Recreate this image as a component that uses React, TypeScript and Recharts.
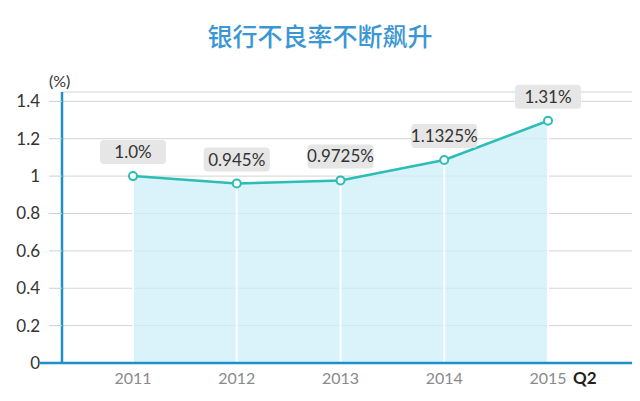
import React from "react";
import {
  Area,
  CartesianGrid,
  ComposedChart,
  LabelList,
  Line,
  ReferenceLine,
  XAxis,
  YAxis
} from "recharts";

const years = ["2011", "2012", "2013", "2014", "2015"];
const lastSuffix = "Q2";
// values read from the plotted points
const npl = [1.0, 0.96, 0.977, 1.086, 1.296];
// labels printed on the chart
const nplLabels = ["1.0%", "0.945%", "0.9725%", "1.1325%", "1.31%"];
const yTicks = [0, 0.2, 0.4, 0.6, 0.8, 1, 1.2, 1.4];

const data = years.map((year, i) => ({ year, npl: npl[i], label: nplLabels[i] }));

const AXIS_BLUE = "#1f8fca";
const TEAL = "#2bbdb6";
const FONT = "Lato, 'Open Sans', sans-serif";

function YTick(props: any) {
  const { x, y, payload } = props;
  const v = payload.value;
  return (
    <g>
      {v === 0 ? (
        <line x1={x - 22} x2={x} y1={y} y2={y} stroke={AXIS_BLUE} strokeWidth={2.5} />
      ) : (
        <line x1={x - 13} x2={x} y1={y} y2={y} stroke="#cfcfcf" strokeWidth={1} />
      )}
      <text x={x - 22} y={y} dy={6} textAnchor="end" fontSize={17} fill="#333" fontFamily={FONT}>
        {String(v)}
      </text>
    </g>
  );
}

function XTick(props: any) {
  const { x, y, payload, index } = props;
  const isLast = index === years.length - 1;
  return (
    <g>
      <text x={x} y={y + 21} textAnchor="middle" fontSize={16} fill="#8a8a8a" fontFamily={FONT}>
        {payload.value}
      </text>
      {isLast && (
        <text x={x + 25} y={y + 21} textAnchor="start" fontSize={17} fontWeight={700} fill="#222" fontFamily={FONT}>
          {lastSuffix}
        </text>
      )}
    </g>
  );
}

function PointLabel(props: any) {
  const { x, y, value } = props;
  const w = 66;
  const h = 24;
  const cy = y - 24;
  return (
    <g>
      <rect x={x - w / 2} y={cy - h / 2} width={w} height={h} rx={4} fill="#e6e6e6" />
      <text x={x} y={cy} dy={6} textAnchor="middle" fontSize={17} fill="#333" fontFamily={FONT}>
        {value}
      </text>
    </g>
  );
}

export default function App() {
  return (
    <div style={{ position: "absolute", left: 0, top: 0, width: 640, height: 401, background: "#fff" }}>
      <div
        style={{
          position: "absolute",
          left: 0,
          top: 17,
          width: 640,
          textAlign: "center",
          fontSize: 25,
          color: "#3b97d3",
          fontFamily: "'Noto Sans CJK SC', sans-serif",
          fontWeight: 500
        }}
      >
        银行不良率不断飙升
      </div>
      <div
        style={{
          position: "absolute",
          left: 49,
          top: 71,
          fontSize: 16,
          color: "#333",
          fontFamily: FONT
        }}
      >
        (%)
      </div>
      <div style={{ position: "absolute", left: 0, top: 0 }}>
        <ComposedChart width={640} height={401} data={data} margin={{ top: 92, right: 8, bottom: 0, left: 0 }}>
          <CartesianGrid vertical={false} stroke="#d4d4d4" />
          <XAxis
            dataKey="year"
            scale="point"
            padding={{ left: 71, right: 84 }}
            height={38}
            axisLine={{ stroke: AXIS_BLUE, strokeWidth: 2.5 }}
            tickLine={false}
            tickSize={0}
            tickMargin={0}
            tick={<XTick />}
            interval={0}
          />
          <YAxis
            width={62}
            domain={[0, 1.45]}
            ticks={yTicks}
            axisLine={{ stroke: AXIS_BLUE, strokeWidth: 2.5 }}
            tickLine={false}
            tickSize={0}
            tickMargin={0}
            tick={<YTick />}
            interval={0}
          />
          <Area
            type="linear"
            dataKey="npl"
            stroke="none"
            fill="#cdeff8"
            fillOpacity={0.75}
            isAnimationActive={false}
          />
          {data.map((d) => (
            <ReferenceLine
              key={d.year}
              segment={[
                { x: d.year, y: 0 },
                { x: d.year, y: d.npl }
              ]}
              stroke="#ffffff"
              strokeWidth={2}
            />
          ))}
          <Line
            type="linear"
            dataKey="npl"
            stroke={TEAL}
            strokeWidth={2.5}
            dot={{ r: 4, fill: "#fff", stroke: TEAL, strokeWidth: 2 }}
            isAnimationActive={false}
          >
            <LabelList dataKey="label" content={<PointLabel />} />
          </Line>
        </ComposedChart>
      </div>
    </div>
  );
}
